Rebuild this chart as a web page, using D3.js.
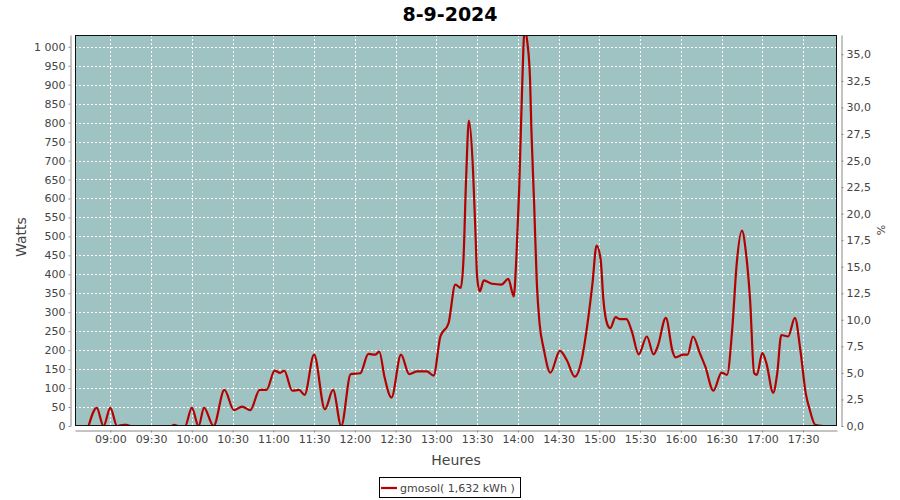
<!DOCTYPE html>
<html><head><meta charset="utf-8">
<script src="https://cdn.jsdelivr.net/npm/d3@7"></script>
<style>
html,body{margin:0;padding:0;background:#fff;}
svg{display:block;}
text{font-family:"DejaVu Sans",sans-serif;}
</style></head>
<body>
<svg id="chart" width="900" height="500"></svg>
<script>
// ---- data ----
const times = ["08:44","08:50","08:55","09:00","09:05","09:10","09:12","09:15","09:45","09:47","09:50","09:55",
"10:00","10:05","10:09","10:16","10:24","10:31","10:37","10:43","10:50","10:55","11:01","11:05","11:08","11:14",
"11:19","11:23","11:30","11:38","11:44","11:50","11:57","12:04","12:10","12:15","12:18","12:22","12:27","12:34",
"12:40","12:46","12:53","12:58","13:03","13:09","13:14","13:18","13:20","13:22","13:24","13:27","13:29","13:30",
"13:32","13:35","13:41","13:48","13:53","13:56","13:57","13:59","14:01","14:03","14:05","14:07","14:09","14:10",
"14:12","14:14","14:16","14:19","14:24","14:31","14:36","14:42","14:47","14:51","14:55","14:58","15:01","15:03",
"15:06","15:08","15:12","15:15","15:20","15:24","15:29","15:35","15:40","15:43","15:49","15:54","15:56","16:02",
"16:05","16:09","16:14","16:18","16:24","16:30","16:34","16:38","16:41","16:45","16:48","16:51","16:54","16:56",
"17:00","17:03","17:08","17:11","17:14","17:19","17:24","17:28","17:32","17:35","17:39","17:45"];
const watts = [0,48,0,48,0,3,3,0,0,3,0,0,
48,0,48,0,95,42,51,42,95,95,146,140,146,93,
95,82,188,44,95,0,137,139,190,188,196,127,75,188,
137,144,144,133,236,271,373,364,439,659,805,677,492,395,
355,384,375,373,388,351,342,448,624,870,1045,1012,915,782,
589,377,271,205,141,198,174,130,174,262,377,476,439,333,
267,258,287,282,282,249,189,236,189,210,285,196,181,188,
188,236,192,157,93,141,135,262,421,515,456,333,139,135,
192,166,88,139,240,236,285,201,86,42,3,0];
const seriesName = "gmosol( 1,632 kWh )";
const title = "8-9-2024";
const xTickLabels = ["09:00","09:30","10:00","10:30","11:00","11:30","12:00","12:30","13:00","13:30",
"14:00","14:30","15:00","15:30","16:00","16:30","17:00","17:30"];
const leftTicks = [0,50,100,150,200,250,300,350,400,450,500,550,600,650,700,750,800,850,900,950,1000];
const rightTicks = [0,2.5,5,7.5,10,12.5,15,17.5,20,22.5,25,27.5,30,32.5,35];

// ---- layout ----
const P = {l:75, t:35, r:837, b:426};
const parse = d3.timeParse("%H:%M");
const data = times.map((t,i)=>({t:parse(t), v:watts[i]}));

const x = d3.scaleTime().domain([parse("08:34"), parse("17:55")]).range([P.l, P.r]);
const y = d3.scaleLinear().domain([0, 1031]).range([P.b, P.t]);
const y2 = d3.scaleLinear().domain([0, 36.82]).range([P.b, P.t]);

const loc = d3.formatLocale({decimal:",", thousands:"\u00a0", grouping:[3], currency:["",""]});
const fL = loc.format(",d");
const fR = loc.format(".1f");

const svg = d3.select("#chart");
const txt = "#444444";

// title
svg.append("text").attr("x", 450).attr("y", 21).attr("text-anchor","middle")
  .attr("font-size", 19).attr("font-weight","bold").attr("fill","#000").text(title);

// plot bg
svg.append("rect").attr("x",P.l).attr("y",P.t).attr("width",P.r-P.l).attr("height",P.b-P.t)
  .attr("fill","#9ec3c2");

// grid
const g = svg.append("g");
g.selectAll("line.h").data(leftTicks).join("line")
  .attr("x1",P.l).attr("x2",P.r).attr("y1",d=>Math.round(y(d))+0.5).attr("y2",d=>Math.round(y(d))+0.5)
  .attr("stroke","#fff").attr("stroke-width",1).attr("stroke-dasharray","2,2");
const xTickDates = xTickLabels.map(parse);
g.selectAll("line.v").data(xTickDates).join("line")
  .attr("y1",P.t).attr("y2",P.b).attr("x1",d=>Math.round(x(d))+0.5).attr("x2",d=>Math.round(x(d))+0.5)
  .attr("stroke","#fff").attr("stroke-width",1).attr("stroke-dasharray","2,2");

// clip + line
svg.append("clipPath").attr("id","clip").append("rect")
  .attr("x",P.l).attr("y",P.t).attr("width",P.r-P.l).attr("height",P.b-P.t);
const line = d3.line().x(d=>x(d.t)).y(d=>y(d.v)).curve(d3.curveMonotoneX);
svg.append("path").datum(data).attr("clip-path","url(#clip)")
  .attr("d",line).attr("fill","none").attr("stroke","#b50000").attr("stroke-width",2.2)
  .attr("stroke-linejoin","round");

// frame
svg.append("rect").attr("x",P.l+0.5).attr("y",P.t+0.5).attr("width",P.r-P.l-1).attr("height",P.b-P.t-1)
  .attr("fill","none").attr("stroke","#111").attr("stroke-width",1);

// axes
const axisColor = "#888";
function styleAxis(sel){
  sel.select(".domain").attr("stroke",axisColor);
  sel.selectAll(".tick line").attr("stroke",axisColor);
  sel.selectAll(".tick text").attr("fill",txt).attr("font-size",11).attr("font-family","DejaVu Sans, sans-serif");
}
const axL = svg.append("g").attr("transform",`translate(${P.l-4.5},0)`)
  .call(d3.axisLeft(y).tickValues(leftTicks).tickFormat(fL).tickSizeInner(2).tickSizeOuter(0).tickPadding(3));
styleAxis(axL);
const axR = svg.append("g").attr("transform",`translate(${P.r+4.5},0)`)
  .call(d3.axisRight(y2).tickValues(rightTicks).tickFormat(fR).tickSizeInner(2).tickSizeOuter(0).tickPadding(3));
styleAxis(axR);
const axB = svg.append("g").attr("transform",`translate(0,${P.b+4.5})`)
  .call(d3.axisBottom(x).tickValues(xTickDates).tickFormat(d3.timeFormat("%H:%M")).tickSizeInner(2).tickSizeOuter(0).tickPadding(3));
styleAxis(axB);

// axis titles
svg.append("text").attr("transform","translate(26,237) rotate(-90)").attr("text-anchor","middle")
  .attr("font-size",14).attr("fill",txt).text("Watts");
svg.append("text").attr("transform","translate(885,230) rotate(-90)").attr("text-anchor","middle")
  .attr("font-size",11).attr("fill",txt).text("%");
svg.append("text").attr("x",456).attr("y",465).attr("text-anchor","middle")
  .attr("font-size",14).attr("fill",txt).text("Heures");

// legend
const lg = svg.append("g");
lg.append("rect").attr("x",379.5).attr("y",477.5).attr("width",141).attr("height",20)
  .attr("fill","#fff").attr("stroke","#000");
lg.append("line").attr("x1",381).attr("x2",397).attr("y1",488).attr("y2",488)
  .attr("stroke","#b50000").attr("stroke-width",2.2);
lg.append("text").attr("x",400).attr("y",492).attr("font-size",11).attr("fill",txt).text(seriesName);
</script>
</body></html>
